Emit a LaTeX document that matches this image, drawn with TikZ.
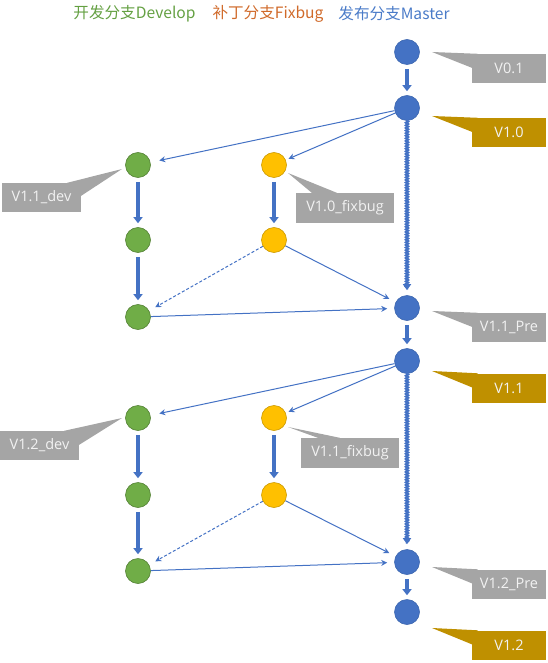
\documentclass[tikz,border=0pt]{standalone}
\usepackage{fontspec}
\setmainfont{Open Sans}
\newfontfamily\cjk{Noto Sans CJK SC}
\usetikzlibrary{arrows.meta,decorations.pathmorphing}
\definecolor{mblue}{HTML}{4472C4}
\definecolor{dgreen}{HTML}{70AD47}
\definecolor{fyellow}{HTML}{FFC000}
\definecolor{cgray}{HTML}{A5A5A5}
\definecolor{cgold}{HTML}{BF9000}
\definecolor{tgreen}{HTML}{64A042}
\definecolor{torange}{HTML}{D06A2A}
\definecolor{tblue}{HTML}{4A7BC8}
\begin{document}
\begin{tikzpicture}[x=1pt,y=-1pt,
  commit/.style={circle,minimum size=25pt,inner sep=0pt,line width=0.6pt},
  mnode/.style={commit,fill=mblue,draw=mblue!90!black},
  dnode/.style={commit,fill=dgreen,draw=dgreen!75!black},
  fnode/.style={commit,fill=fyellow,draw=fyellow!80!black},
  bigarrow/.style={draw=mblue,line width=3.6pt,-{Triangle[width=9pt,length=6pt]},shorten <=4pt,shorten >=4pt},
  thinarrow/.style={draw=mblue,line width=1pt,-{Stealth[width=6pt,length=6pt]}},
  dasharrow/.style={thinarrow,dashed,dash pattern=on 3pt off 2pt},
  wavy/.style={draw=mblue,line width=2.4pt,decorate,decoration={zigzag,amplitude=0.9pt,segment length=2.6pt,post length=7pt},-{Triangle[width=8pt,length=6pt]},shorten <=7pt,shorten >=5pt},
  lbl/.style={inner sep=0pt,minimum height=29pt,text=white!95!black,font=\fontsize{14.5}{16}\selectfont},
  lgray/.style={lbl,fill=cgray},
  lgold/.style={lbl,fill=cgold},
  ttl/.style={inner sep=0pt,font=\cjk\fontsize{15.6}{18}\selectfont}
]
\useasboundingbox (0,0) rectangle (547,663);

% titles
\node[ttl,text=tgreen] (t1) at (134.5,14) {开发分支Develop};
\node[ttl,text=torange] (t2) at (268,14) {补丁分支Fixbug};
\node[ttl,text=tblue] (t3) at (394,14) {发布分支Master};

% master commits
\node[mnode] (M0) at (407,52) {};
\node[mnode] (M1) at (407,108) {};
\node[mnode] (M2) at (407,308) {};
\node[mnode] (M3) at (407,361) {};
\node[mnode] (M4) at (407,562) {};
\node[mnode] (M5) at (407,612) {};
% develop commits
\node[dnode] (G1) at (138,165) {};
\node[dnode] (G2) at (138,240) {};
\node[dnode] (G3) at (138,317) {};
\node[dnode] (G4) at (138,418) {};
\node[dnode] (G5) at (138,495) {};
\node[dnode] (G6) at (138,571) {};
% fixbug commits
\node[fnode] (Y1) at (274,165) {};
\node[fnode] (Y2) at (274,240) {};
\node[fnode] (Y3) at (274,418) {};
\node[fnode] (Y4) at (274,495) {};

% thick arrows
\draw[bigarrow] (M0) -- (M1);
\draw[bigarrow] (M2) -- (M3);
\draw[bigarrow] (M4) -- (M5);
\draw[bigarrow] (G1) -- (G2);
\draw[bigarrow] (G2) -- (G3);
\draw[bigarrow] (G4) -- (G5);
\draw[bigarrow] (G5) -- (G6);
\draw[bigarrow] (Y1) -- (Y2);
\draw[bigarrow] (Y3) -- (Y4);
% wavy master lines
\draw[wavy] (M1.south) -- (M2.north);
\draw[wavy] (M3.south) -- (M4.north);
% thin arrows
\draw[thinarrow,shorten >=9pt] (M1) -- (G1);
\draw[thinarrow,shorten >=3pt] (M1) -- (Y1);
\draw[thinarrow,shorten >=7pt] (Y2) -- (M2);
\draw[thinarrow,shorten >=7pt] (G3) -- (M2);
\draw[dasharrow,shorten >=7pt] (Y2) -- (G3);
\draw[thinarrow,shorten >=9pt] (M3) -- (G4);
\draw[thinarrow,shorten >=3pt] (M3) -- (Y3);
\draw[thinarrow,shorten >=7pt] (Y4) -- (M4);
\draw[thinarrow,shorten >=7pt] (G6) -- (M4);
\draw[dasharrow,shorten >=7pt] (Y4) -- (G6);

% callouts (right side)
\node[lgray,minimum width=74pt] (c01) at (509,68.5) {V0.1};
\coordinate (k01) at (432,52);
\fill[cgray] (k01) -- ([xshift=6pt]c01.north west) -- ([yshift=-14pt]c01.north west) -- cycle;
\node[lgold,minimum width=74pt] (c10) at (509,132.5) {V1.0};
\coordinate (k10) at (432,116);
\fill[cgold] (k10) -- ([xshift=6pt]c10.north west) -- ([yshift=-14pt]c10.north west) -- cycle;
\node[lgray,minimum width=74pt] (c11p) at (509,327.5) {V1.1\_Pre};
\coordinate (k11p) at (432,311);
\fill[cgray] (k11p) -- ([xshift=6pt]c11p.north west) -- ([yshift=-14pt]c11p.north west) -- cycle;
\node[lgold,minimum width=74pt] (c11) at (509,388) {V1.1};
\coordinate (k11) at (432,371);
\fill[cgold] (k11) -- ([xshift=6pt]c11.north west) -- ([yshift=-14pt]c11.north west) -- cycle;
\node[lgray,minimum width=74pt] (c12p) at (509,584) {V1.2\_Pre};
\coordinate (k12p) at (432,567);
\fill[cgray] (k12p) -- ([xshift=6pt]c12p.north west) -- ([yshift=-14pt]c12p.north west) -- cycle;
\node[lgold,minimum width=74pt] (c12) at (509,645) {V1.2};
\coordinate (k12) at (432,628);
\fill[cgold] (k12) -- ([xshift=6pt]c12.north west) -- ([yshift=-14pt]c12.north west) -- cycle;

% callouts (develop)
\node[lgray,minimum width=79pt] (c11d) at (41.5,197.5) {V1.1\_dev};
\coordinate (k11d) at (122,169);
\fill[cgray] (k11d) -- ([xshift=-14pt]c11d.north east) -- ([yshift=-13pt]c11d.north east) -- cycle;
\node[lgray,minimum width=79pt] (c12d) at (39.5,445.5) {V1.2\_dev};
\coordinate (k12d) at (122,418);
\fill[cgray] (k12d) -- ([xshift=-15pt]c12d.north east) -- ([yshift=-14pt]c12d.north east) -- cycle;

% callouts (fixbug)
\node[lgray,minimum width=98pt,minimum height=30pt] (c10f) at (345,208) {V1.0\_fixbug};
\coordinate (k10f) at (288,173);
\fill[cgray] (k10f) -- ([xshift=16pt]c10f.north west) -- ([xshift=41pt]c10f.north west) -- cycle;
\node[lgray,minimum width=98pt,minimum height=30pt] (c11f) at (350,453) {V1.1\_fixbug};
\coordinate (k11f) at (288,427);
\fill[cgray] (k11f) -- ([xshift=17pt]c11f.north west) -- ([xshift=39pt]c11f.north west) -- cycle;
\end{tikzpicture}
\end{document}
